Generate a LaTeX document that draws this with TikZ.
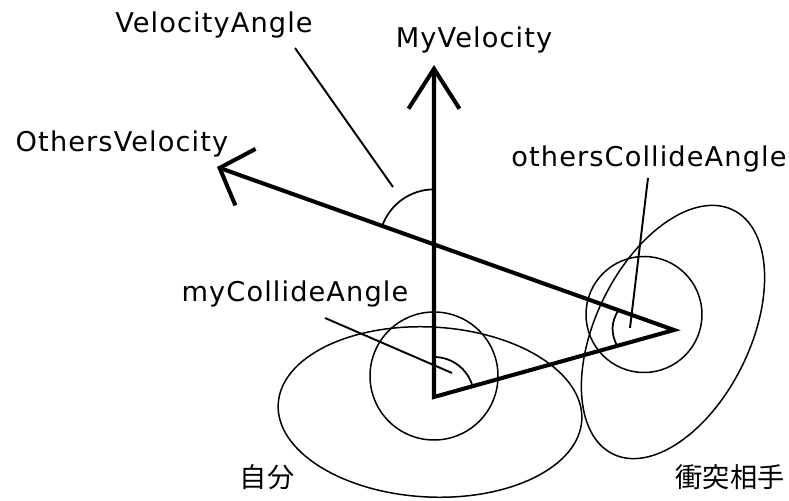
\documentclass[tikz,border=0pt]{standalone}
\usepackage{fontspec}
\usepackage{tikz}
\usetikzlibrary{arrows.meta, calc}
\newfontfamily\labelfont{DejaVu Sans}[LetterSpace=4]
\newfontfamily\jpfont{Noto Sans CJK JP}

\begin{document}
\begin{tikzpicture}[
  x=0.02cm, y=0.02cm,
  tag/.style={font=\labelfont\fontsize{15.5}{18}\selectfont, inner sep=0pt, anchor=base},
  jtag/.style={font=\jpfont\fontsize{15.5}{18}\selectfont, inner sep=0pt},
  vec/.style={line width=2.3pt, line join=miter, line cap=round},
  outline/.style={line width=0.85pt},
  leader/.style={line width=1.1pt},
  angmark/.style={line width=1pt}
]
\useasboundingbox (0,0) rectangle (789,501);

\coordinate (me) at (434,104);
\coordinate (myv) at (434,436);
\coordinate (oth) at (674,171);
\coordinate (othv) at (217,334);
\coordinate (cross) at (intersection of me--myv and oth--othv);

\draw[outline, rotate around={-3:(430,89)}] (430,89) ellipse [x radius=152, y radius=85];
\draw[outline, rotate around={63.7:(673,169)}] (673,169) ellipse [x radius=136, y radius=77];
\draw[outline] (434,125) circle [radius=64];
\draw[outline] (644,186.5) circle [radius=58];

\draw[vec, {Straight Barb[length=0.8cm, width=1.02cm]}-{Straight Barb[length=0.55cm, width=1.2cm]}]
  (myv) -- (me) -- (oth) -- (othv);

\draw[angmark] (cross) ++(90:55) arc[start angle=90, end angle=160.4, radius=55];
\draw[angmark] (me) ++(15.6:40) arc[start angle=15.6, end angle=90, radius=40];
\coordinate (oa1) at ($(oth)+(160.4:59)$);
\coordinate (oa2) at ($(oth)+(195.6:59)$);
\draw[angmark] (oa1) to[bend right=30] (oa2);

\node[tag] (vlab) at (214,468) {VelocityAngle};
\node[tag] (mylab) at (474,453) {MyVelocity};
\node[tag] (othlab) at (122,349) {OthersVelocity};
\node[tag] (oclab) at (649,334) {othersCollideAngle};
\node[tag] (mclab) at (295,199) {myCollideAngle};
\node[jtag] (self) at (267,24) {自分};
\node[jtag] (partner) at (730,24) {衝突相手};

\coordinate (vlead) at (295,453);
\coordinate (vtip) at (393,314);
\coordinate (mclead) at (325,183);
\coordinate (mctip) at (452,128);
\coordinate (oclead) at (648,323);
\coordinate (octip) at (630,173);
\draw[leader] (vlead) -- (vtip);
\draw[leader] (mclead) -- (mctip);
\draw[leader] (oclead) -- (octip);
\end{tikzpicture}
\end{document}
